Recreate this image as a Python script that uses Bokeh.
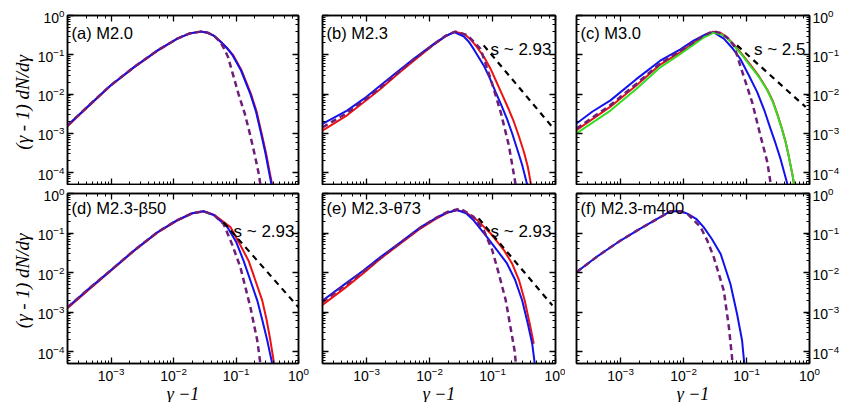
import numpy as np
from bokeh.plotting import figure
from bokeh.layouts import column, row
from bokeh.models import Range1d, LogAxis, Label
from bokeh.embed import file_html
from bokeh.resources import INLINE

# ---- data: log10(gamma-1) and log10((gamma-1) dN/dgamma) ----
panel_labels = ["(a) M2.0", "(b) M2.3", "(c) M3.0",
                "(d) M2.3-\u03b250", "(e) M2.3-\u03b873", "(f) M2.3-m400"]
slope_labels = [None, "s ~ 2.93", "s ~ 2.5", "s ~ 2.93", "s ~ 2.93", None]
x_axis_label = "\u03b3 \u22121"
y_axis_label = "(\u03b3 - 1)  dN/d\u03b3"

a_lx_blue = [-3.70,-3.35,-3.01,-2.64,-2.26,-1.94,-1.75,-1.57,-1.45,-1.35,-1.25,-1.15,-1.06,-0.92,-0.77,-0.68,-0.60,-0.53,-0.47,-0.42]
a_ly_blue = [-2.80,-2.28,-1.78,-1.32,-0.89,-0.59,-0.46,-0.41,-0.44,-0.52,-0.66,-0.82,-1.00,-1.40,-2.00,-2.45,-3.00,-3.50,-4.00,-4.40]
a_lx_red = [-3.70,-3.35,-3.01,-2.64,-2.26,-1.94,-1.75,-1.57,-1.45,-1.35,-1.25,-1.15,-1.05,-0.91,-0.76,-0.67,-0.59,-0.52,-0.46,-0.41]
a_ly_red = [-2.82,-2.29,-1.79,-1.33,-0.90,-0.59,-0.46,-0.41,-0.44,-0.52,-0.66,-0.82,-1.00,-1.40,-2.00,-2.45,-3.00,-3.50,-4.00,-4.40]
a_lx_max = [-3.70,-3.35,-3.01,-2.64,-2.26,-1.94,-1.75,-1.57,-1.45,-1.35,-1.25,-1.19,-1.13,-1.06,-0.96,-0.86,-0.78,-0.70,-0.64,-0.60]
a_ly_max = [-2.80,-2.28,-1.78,-1.32,-0.89,-0.59,-0.46,-0.41,-0.44,-0.52,-0.68,-0.85,-1.05,-1.44,-2.00,-2.50,-3.00,-3.55,-4.00,-4.40]

b_lx_blue = [-3.70,-3.31,-3.00,-2.78,-2.50,-2.25,-1.93,-1.75,-1.61,-1.46,-1.38,-1.30,-1.14,-1.05,-0.95,-0.86,-0.77,-0.69,-0.61,-0.53,-0.46,-0.42]
b_ly_blue = [-2.76,-2.42,-2.07,-1.78,-1.42,-1.10,-0.72,-0.53,-0.42,-0.53,-0.66,-0.85,-1.27,-1.57,-1.95,-2.28,-2.63,-2.99,-3.39,-3.80,-4.24,-4.45]
b_lx_red = [-3.70,-3.31,-3.00,-2.78,-2.50,-2.25,-1.93,-1.75,-1.60,-1.45,-1.34,-1.24,-1.13,-1.03,-0.94,-0.85,-0.75,-0.66,-0.58,-0.50,-0.44,-0.40,-0.37]
b_ly_red = [-2.93,-2.54,-2.15,-1.87,-1.48,-1.15,-0.74,-0.53,-0.41,-0.47,-0.62,-0.82,-1.07,-1.36,-1.68,-2.00,-2.36,-2.71,-3.08,-3.48,-3.85,-4.20,-4.45]
b_lx_max = [-3.70,-3.31,-3.00,-2.78,-2.50,-2.25,-1.93,-1.75,-1.59,-1.40,-1.19,-1.03,-0.87,-0.74,-0.64,-0.62]
b_ly_max = [-2.85,-2.48,-2.11,-1.83,-1.45,-1.12,-0.73,-0.52,-0.41,-0.50,-0.85,-1.61,-2.46,-3.31,-4.24,-4.45]
b_lx_pl = [-1.14, -0.05]
b_ly_pl = [-0.76, -2.84]

c_lx_blue = [-3.70,-3.45,-3.16,-2.75,-2.37,-2.05,-1.84,-1.65,-1.52,-1.36,-1.23,-1.10,-0.97,-0.83,-0.72,-0.62,-0.54,-0.46,-0.36,-0.33]
c_ly_blue = [-2.75,-2.45,-2.16,-1.62,-1.15,-0.86,-0.64,-0.48,-0.43,-0.59,-0.82,-1.10,-1.50,-1.95,-2.40,-2.88,-3.25,-3.65,-4.24,-4.45]
c_lx_red = [-3.70,-3.16,-2.75,-2.37,-2.05,-1.84,-1.68,-1.53,-1.40,-1.30,-1.20,-1.07,-0.94,-0.80,-0.67,-0.58,-0.51,-0.44,-0.38,-0.34,-0.30,-0.27,-0.25,-0.23]
c_ly_red = [-2.92,-2.32,-1.78,-1.25,-0.93,-0.70,-0.52,-0.41,-0.45,-0.57,-0.74,-0.99,-1.25,-1.55,-1.89,-2.19,-2.51,-2.87,-3.21,-3.50,-3.82,-4.06,-4.26,-4.45]
c_lx_green = [-3.70,-3.16,-2.75,-2.37,-2.05,-1.84,-1.68,-1.53,-1.40,-1.30,-1.20,-1.07,-0.94,-0.80,-0.67,-0.58,-0.51,-0.44,-0.38,-0.34,-0.30,-0.27,-0.25,-0.23]
c_ly_green = [-3.00,-2.42,-1.87,-1.32,-0.98,-0.74,-0.56,-0.44,-0.48,-0.59,-0.77,-1.01,-1.28,-1.57,-1.90,-2.21,-2.53,-2.88,-3.22,-3.50,-3.82,-4.05,-4.24,-4.45]
c_lx_max = [-3.70,-3.16,-2.75,-2.37,-2.05,-1.84,-1.68,-1.53,-1.40,-1.30,-1.20,-1.10,-0.91,-0.78,-0.67,-0.62,-0.60]
c_ly_max = [-2.88,-2.28,-1.74,-1.22,-0.90,-0.68,-0.51,-0.40,-0.45,-0.57,-0.76,-1.27,-2.21,-3.05,-3.73,-4.24,-4.45]
c_lx_pl = [-1.15, -0.06]
c_ly_pl = [-0.76, -2.33]

d_lx_blue = [-3.70,-3.35,-3.01,-2.64,-2.26,-1.95,-1.70,-1.52,-1.35,-1.14,-1.00,-0.88,-0.77,-0.66,-0.58,-0.50,-0.42,-0.41]
d_ly_blue = [-2.88,-2.40,-1.95,-1.45,-0.98,-0.68,-0.50,-0.45,-0.55,-0.85,-1.22,-1.70,-2.20,-2.71,-3.20,-3.72,-4.31,-4.45]
d_lx_red = [-3.70,-3.35,-3.01,-2.64,-2.26,-1.95,-1.70,-1.52,-1.35,-1.09,-0.95,-0.80,-0.69,-0.58,-0.51,-0.45,-0.39,-0.37]
d_ly_red = [-2.90,-2.42,-1.96,-1.46,-0.99,-0.69,-0.50,-0.45,-0.54,-0.85,-1.25,-1.70,-2.20,-2.71,-3.20,-3.72,-4.31,-4.45]
d_lx_max = [-3.70,-3.35,-3.01,-2.64,-2.26,-1.95,-1.70,-1.52,-1.35,-1.20,-1.06,-0.93,-0.77,-0.66,-0.61,-0.60]
d_ly_max = [-2.88,-2.40,-1.95,-1.45,-0.98,-0.68,-0.50,-0.45,-0.55,-0.77,-1.30,-1.87,-2.88,-3.72,-4.31,-4.45]
d_lx_pl = [-1.20, 0.0]
d_ly_pl = [-0.73, -2.88]

e_lx_blue = [-3.70,-3.35,-3.05,-2.78,-2.45,-2.14,-1.90,-1.72,-1.56,-1.42,-1.30,-1.09,-0.93,-0.77,-0.64,-0.53,-0.44,-0.37,-0.33,-0.32]
e_ly_blue = [-2.71,-2.30,-1.95,-1.61,-1.22,-0.85,-0.62,-0.48,-0.42,-0.50,-0.68,-1.10,-1.43,-1.77,-2.19,-2.70,-3.29,-3.80,-4.30,-4.45]
e_lx_red = [-3.70,-3.35,-3.05,-2.78,-2.45,-2.14,-1.90,-1.72,-1.56,-1.42,-1.24,-1.03,-0.82,-0.69,-0.58,-0.49,-0.41,-0.345]
e_ly_red = [-2.82,-2.40,-2.02,-1.65,-1.25,-0.88,-0.64,-0.49,-0.42,-0.48,-0.68,-1.01,-1.43,-1.77,-2.19,-2.70,-3.29,-3.80]
e_lx_max = [-3.70,-3.05,-2.45,-2.14,-1.90,-1.72,-1.51,-1.30,-1.14,-1.005,-0.90,-0.79,-0.715,-0.65,-0.62]
e_ly_max = [-2.75,-1.97,-1.23,-0.86,-0.62,-0.47,-0.38,-0.59,-0.93,-1.43,-2.03,-2.70,-3.38,-3.97,-4.45]
e_lx_pl = [-1.22, -0.05]
e_ly_pl = [-0.63, -2.83]

f_lx_blue = [-3.70,-3.35,-3.00,-2.70,-2.37,-2.21,-2.05,-1.94,-1.80,-1.68,-1.55,-1.41,-1.255,-1.15,-1.07,-1.04,-1.03]
f_ly_blue = [-1.99,-1.57,-1.19,-0.90,-0.60,-0.45,-0.45,-0.51,-0.64,-0.85,-1.15,-1.53,-2.29,-3.05,-3.72,-4.23,-4.45]
f_lx_max = [-3.70,-3.35,-3.00,-2.70,-2.37,-2.21,-2.05,-1.94,-1.73,-1.62,-1.52,-1.36,-1.28,-1.23,-1.22]
f_ly_max = [-1.99,-1.57,-1.19,-0.90,-0.60,-0.45,-0.45,-0.51,-0.85,-1.20,-1.61,-2.46,-3.38,-4.14,-4.45]

RED, BLUE, GREEN, PURPLE, BLACK = "#ee1111", "#1111ee", "#33dd22", "#6e1e78", "#000000"

panel_series = [
    [(a_lx_red, a_ly_red, RED, None), (a_lx_blue, a_ly_blue, BLUE, None), (a_lx_max, a_ly_max, PURPLE, "max")],
    [(b_lx_red, b_ly_red, RED, None), (b_lx_blue, b_ly_blue, BLUE, None), (b_lx_max, b_ly_max, PURPLE, "max"), (b_lx_pl, b_ly_pl, BLACK, "pl")],
    [(c_lx_red, c_ly_red, RED, None), (c_lx_blue, c_ly_blue, BLUE, None), (c_lx_green, c_ly_green, GREEN, None), (c_lx_max, c_ly_max, PURPLE, "max"), (c_lx_pl, c_ly_pl, BLACK, "pl")],
    [(d_lx_red, d_ly_red, RED, None), (d_lx_blue, d_ly_blue, BLUE, None), (d_lx_max, d_ly_max, PURPLE, "max"), (d_lx_pl, d_ly_pl, BLACK, "pl")],
    [(e_lx_red, e_ly_red, RED, None), (e_lx_blue, e_ly_blue, BLUE, None), (e_lx_max, e_ly_max, PURPLE, "max"), (e_lx_pl, e_ly_pl, BLACK, "pl")],
    [(f_lx_blue, f_ly_blue, BLUE, None), (f_lx_max, f_ly_max, PURPLE, "max")],
]

X_MIN, X_MAX = 2e-4, 1.0
Y_MIN, Y_MAX = 5e-5, 1.0

FRAME_W = [231, 233, 233]
FRAME_H = [169, 170]
BORDER_L = [67, 12, 11]
BORDER_R = [12, 10, 45]
BORDER_T = [15, 8]
BORDER_B = [1, 38]
LABEL_DOWN = [17, 14]
SLOPE_DOWN = [34, 38]


def style_axis(ax, show):
    ax.major_tick_in = 6
    ax.major_tick_out = 0
    ax.minor_tick_in = 3
    ax.minor_tick_out = 0
    ax.axis_line_width = 1.5
    ax.axis_line_color = "black"
    ax.major_tick_line_width = 1.3
    ax.minor_tick_line_width = 1
    ax.major_tick_line_color = "black"
    ax.minor_tick_line_color = "black"
    if show:
        ax.major_label_text_font = "Liberation Sans"
        ax.major_label_text_font_size = "14px"
        ax.major_label_text_color = "black"
        ax.major_label_standoff = 3
    else:
        ax.major_label_text_font_size = "1px"
        ax.major_label_text_alpha = 0
        ax.major_label_standoff = 0


def make_panel(idx):
    r, c = divmod(idx, 3)
    p = figure(x_axis_type="log", y_axis_type="log",
               x_range=Range1d(X_MIN, X_MAX), y_range=Range1d(Y_MIN, Y_MAX),
               frame_width=FRAME_W[c], frame_height=FRAME_H[r],
               min_border_left=BORDER_L[c], min_border_right=BORDER_R[c],
               min_border_top=BORDER_T[r], min_border_bottom=BORDER_B[r],
               y_axis_location="right" if c == 2 else "left",
               toolbar_location=None, output_backend="svg")
    p.grid.visible = False
    p.outline_line_color = "black"
    p.outline_line_width = 1.5
    p.background_fill_color = "white"
    p.border_fill_color = "white"

    xa = p.xaxis[0]
    ya = p.yaxis[0]
    style_axis(xa, r == 1)
    style_axis(ya, c != 1)

    if c == 0:
        ya.axis_label = y_axis_label
        ya.axis_label_text_font = "Liberation Serif"
        ya.axis_label_text_font_style = "italic"
        ya.axis_label_text_font_size = "19px"
        ya.axis_label_text_color = "black"
        ya.axis_label_standoff = 2
    if r == 1:
        xa.axis_label = x_axis_label
        xa.axis_label_text_font = "Liberation Serif"
        xa.axis_label_text_font_style = "italic"
        xa.axis_label_text_font_size = "18px"
        xa.axis_label_text_color = "black"
        xa.axis_label_standoff = 0

    top = LogAxis()
    style_axis(top, False)
    p.add_layout(top, "above")
    other = LogAxis()
    style_axis(other, False)
    p.add_layout(other, "left" if c == 2 else "right")

    for lx, ly, col, kind in panel_series[idx]:
        xs = 10 ** np.array(lx)
        ys = 10 ** np.array(ly)
        if kind == "max":
            p.line(xs, ys, line_color=col, line_width=2.5, line_dash="6 4")
        elif kind == "pl":
            p.line(xs, ys, line_color=col, line_width=2.2, line_dash="6 5")
        else:
            p.line(xs, ys, line_color=col, line_width=2)

    p.add_layout(Label(x=4, y=FRAME_H[r] - LABEL_DOWN[r], x_units="screen", y_units="screen",
                       text=panel_labels[idx], text_font="Liberation Sans",
                       text_font_size="16.5px", text_baseline="middle", text_align="left",
                       text_color="black"))
    if slope_labels[idx]:
        p.add_layout(Label(x=FRAME_W[c] - 4, y=FRAME_H[r] - SLOPE_DOWN[r], x_units="screen", y_units="screen",
                           text=slope_labels[idx], text_font="Liberation Sans",
                           text_font_size="17px", text_baseline="middle", text_align="right",
                           text_color="black"))
    return p


figs = [make_panel(i) for i in range(6)]
layout = column(row(*figs[:3]), row(*figs[3:]))
open("out.html", "w").write(file_html(layout, INLINE))
